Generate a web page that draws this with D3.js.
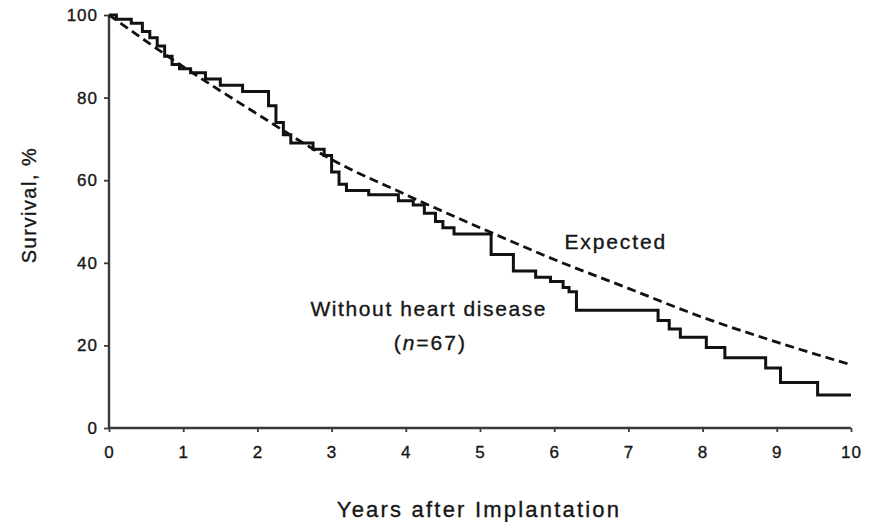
<!DOCTYPE html>
<html>
<head>
<meta charset="utf-8">
<script src="https://cdn.jsdelivr.net/npm/d3@7"></script>
<style>
  body { margin: 0; background: #fff; }
  svg text { font-family: "Liberation Sans", Arial, sans-serif; fill: #161616; stroke: #161616; stroke-width: 0.35px; }
</style>
</head>
<body>
<svg id="drawing_region"></svg>
<script>
// Kaplan-Meier steps: time (years) where survival drops, and survival after the drop (%)
const kmYears = [0, 0.1, 0.3, 0.45, 0.55, 0.65, 0.75, 0.85, 0.95, 1.1, 1.3, 1.5, 1.8,
                 2.15, 2.25, 2.35, 2.45, 2.75, 2.9, 3.0, 3.1, 3.2, 3.5, 3.9, 4.1, 4.25,
                 4.4, 4.5, 4.65, 5.15, 5.45, 5.75, 5.95, 6.12, 6.2, 6.3, 7.4, 7.55, 7.7,
                 8.05, 8.3, 8.85, 9.05, 9.55, 10];
const kmSurvival = [100, 99, 98, 96, 94.5, 92.5, 90, 88, 87, 86, 84.5, 83, 81.5,
                    78, 74, 71, 69, 67.5, 66, 62, 59, 57.5, 56.5, 55, 54, 52,
                    50, 48.5, 47, 42, 38, 36.5, 35.5, 34, 33, 28.5, 26, 24, 22,
                    19.5, 17, 14.5, 11, 8, 8];

// expected survival curve
const expYears = [0, 1, 2, 3, 4, 5, 6, 7, 8, 9, 10];
const expSurvival = [100, 87.5, 76, 65, 56.5, 48.5, 40.8, 33.8, 26.8, 20.8, 15.3];

const xTicks = [0, 1, 2, 3, 4, 5, 6, 7, 8, 9, 10];
const yTicks = [0, 20, 40, 60, 80, 100];

const width = 870, height = 522;
const margin = {top: 15, right: 19, bottom: 94, left: 109};
const innerW = width - margin.left - margin.right;
const innerH = height - margin.top - margin.bottom;

const svg = d3.select('#drawing_region')
    .attr('width', width)
    .attr('height', height);

const chart = svg.append('g')
    .attr('transform', `translate(${margin.left}, ${margin.top})`);

const xscale = d3.scaleLinear().domain([0, 10]).range([0, innerW]);
const yscale = d3.scaleLinear().domain([0, 100]).range([innerH, 0]);

// axes
const xaxis = d3.axisBottom(xscale).tickValues(xTicks).tickSize(4).tickPadding(14);
const yaxis = d3.axisLeft(yscale).tickValues(yTicks).tickSize(5).tickPadding(6);

const xg = chart.append('g')
    .attr('transform', `translate(0, ${innerH})`)
    .call(xaxis);
const yg = chart.append('g').call(yaxis);

[xg, yg].forEach(g => {
    g.select('.domain').attr('stroke', '#3a3a3a').attr('stroke-width', 2.4);
    g.selectAll('.tick line').attr('stroke', '#3a3a3a').attr('stroke-width', 1.8);
    g.selectAll('.tick text')
        .attr('font-size', 17)
        .attr('letter-spacing', 1)
        .attr('font-family', '"Liberation Sans", Arial, sans-serif')
        .attr('fill', '#161616');
});
xg.select('.domain').attr('d', `M0,0H${innerW}`);
yg.select('.domain').attr('d', `M0,${innerH}V0`);

// expected (dashed)
const expLine = d3.line()
    .x((d, i) => xscale(expYears[i]))
    .y(d => yscale(d))
    .curve(d3.curveMonotoneX);

chart.append('path')
    .attr('d', expLine(expSurvival))
    .attr('fill', 'none')
    .attr('stroke', '#111')
    .attr('stroke-width', 2.8)
    .attr('stroke-dasharray', '9,5');

// observed Kaplan-Meier (step)
const kmLine = d3.line()
    .x((d, i) => xscale(kmYears[i]))
    .y(d => yscale(d))
    .curve(d3.curveStepAfter);

chart.append('path')
    .attr('d', kmLine(kmSurvival))
    .attr('fill', 'none')
    .attr('stroke', '#111')
    .attr('stroke-width', 3);

// annotations
chart.append('text')
    .attr('x', xscale(6.83))
    .attr('y', yscale(43.3))
    .attr('text-anchor', 'middle')
    .attr('font-size', 21)
    .attr('letter-spacing', 1.9)
    .text('Expected');

chart.append('text')
    .attr('x', xscale(4.31))
    .attr('y', yscale(27))
    .attr('text-anchor', 'middle')
    .attr('font-size', 21)
    .attr('letter-spacing', 1.6)
    .text('Without heart disease');

const nText = chart.append('text')
    .attr('x', xscale(4.33))
    .attr('y', yscale(19))
    .attr('text-anchor', 'middle')
    .attr('font-size', 21)
    .attr('letter-spacing', 2)
    .text('(');
nText.append('tspan').attr('font-style', 'italic').text('n');
nText.append('tspan').text('=67)');

// axis titles
svg.append('text')
    .attr('x', margin.left + xscale(5) - 1)
    .attr('y', 517)
    .attr('text-anchor', 'middle')
    .attr('font-size', 22)
    .attr('letter-spacing', 2.2)
    .text('Years after Implantation');

svg.append('text')
    .attr('transform', `translate(36, ${margin.top + yscale(54)}) rotate(-90)`)
    .attr('text-anchor', 'middle')
    .attr('font-size', 20)
    .attr('letter-spacing', 1.5)
    .text('Survival, %');
</script>
</body>
</html>
